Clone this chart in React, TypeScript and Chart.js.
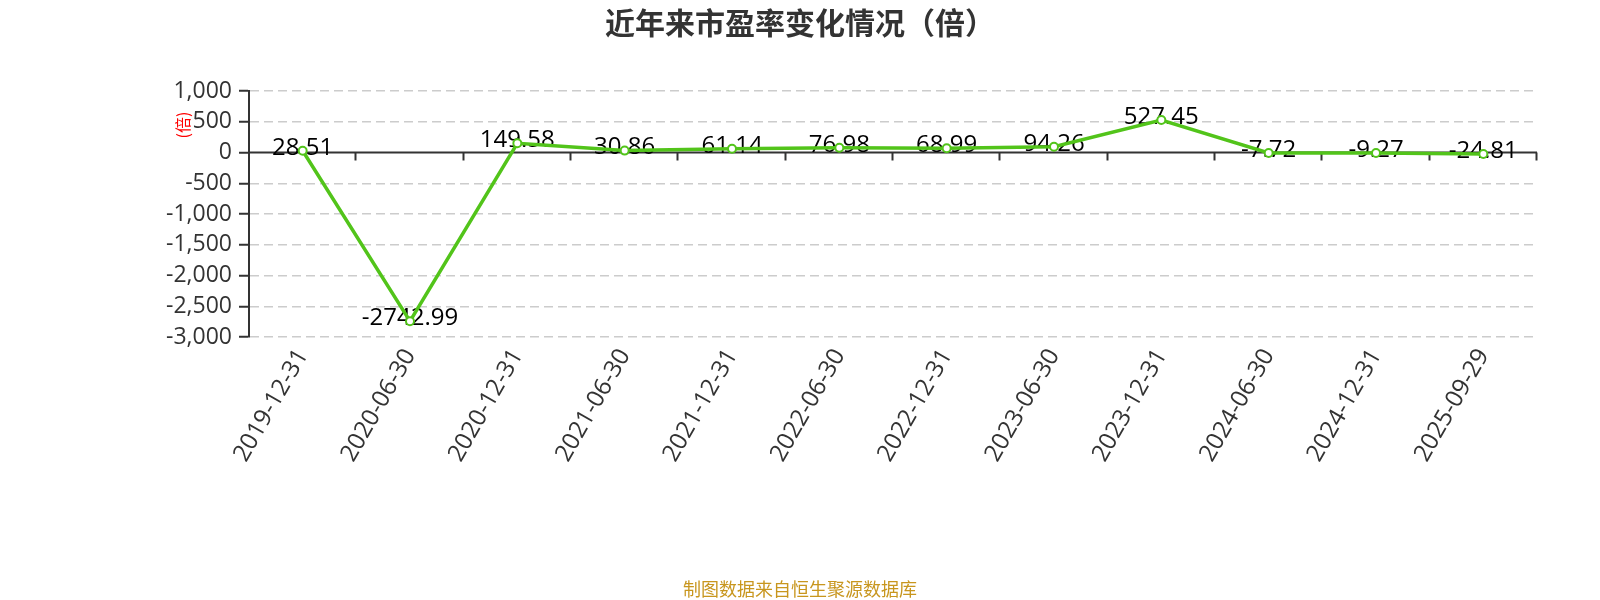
import React, { useEffect, useRef } from "react";
import { Chart, registerables } from "chart.js";

Chart.register(...registerables);

const categories = [
  "2019-12-31", "2020-06-30", "2020-12-31", "2021-06-30", "2021-12-31", "2022-06-30",
  "2022-12-31", "2023-06-30", "2023-12-31", "2024-06-30", "2024-12-31", "2025-09-29",
];
const peValues = [28.51, -2742.99, 149.58, 30.86, 61.14, 76.98, 68.99, 94.26, 527.45, -7.72, -9.27, -24.81];
const valueLabels = ["28.51", "-2742.99", "149.58", "30.86", "61.14", "76.98", "68.99", "94.26", "527.45", "-7.72", "-9.27", "-24.81"];
const yMin = -3000;
const yMax = 1000;
const yStep = 500;
const titleText = "近年来市盈率变化情况（倍）";
const axisName = "(倍)";
const footerText = "制图数据来自恒生聚源数据库";

const FONT = "'Open Sans', 'Noto Sans', 'Noto Sans CJK SC', sans-serif";
const CJK = "'Noto Sans CJK SC', 'Noto Sans', sans-serif";

const decorPlugin = {
  id: "decor",
  beforeDatasetsDraw(chart: any) {
    const { ctx, chartArea, scales } = chart;
    const y0 = scales.y.getPixelForValue(0);
    ctx.save();
    ctx.strokeStyle = "#333";
    ctx.lineWidth = 2;
    ctx.beginPath();
    ctx.moveTo(chartArea.left, y0);
    ctx.lineTo(chartArea.right, y0);
    ctx.stroke();
    const n = categories.length;
    const w = (chartArea.right - chartArea.left) / n;
    for (let k = 1; k <= n; k++) {
      const x = Math.round(chartArea.left + k * w) - 0.5;
      ctx.beginPath();
      ctx.moveTo(x, y0);
      ctx.lineTo(x, y0 + 8);
      ctx.stroke();
    }
    const meta = chart.getDatasetMeta(0);
    ctx.fillStyle = "#000";
    ctx.font = `24px ${FONT}`;
    ctx.textAlign = "center";
    ctx.textBaseline = "middle";
    meta.data.forEach((pt: any, i: number) => {
      ctx.fillText(valueLabels[i], pt.x, pt.y - 3);
    });
    ctx.restore();
  },
  afterDraw(chart: any) {
    const { ctx } = chart;
    ctx.save();
    ctx.textAlign = "center";
    ctx.textBaseline = "middle";
    ctx.fillStyle = "#333";
    ctx.font = `bold 30px ${CJK}`;
    ctx.fillText(titleText, 800, 23);
    ctx.fillStyle = "#c8961e";
    ctx.font = `18px ${CJK}`;
    ctx.fillText(footerText, 800, 589);
    ctx.translate(183, 125);
    ctx.rotate(-Math.PI / 2);
    ctx.fillStyle = "#ff0000";
    ctx.font = `16px ${CJK}`;
    ctx.fillText(axisName, 0, 0);
    ctx.restore();
  },
};

export default function App() {
  const ref = useRef<HTMLCanvasElement>(null);
  useEffect(() => {
    const canvas = ref.current!;
    const chart = new Chart(canvas, {
      type: "line",
      data: {
        labels: categories,
        datasets: [
          {
            data: peValues,
            borderColor: "#52c41a",
            borderWidth: 3.5,
            pointRadius: 4,
            pointBorderWidth: 2,
            pointBackgroundColor: "#fff",
            pointBorderColor: "#52c41a",
            tension: 0,
          },
        ],
      },
      options: {
        responsive: false,
        animation: false,
        layout: { padding: { top: 91, right: 63, left: 0, bottom: 0 } },
        plugins: { legend: { display: false }, tooltip: { enabled: false } },
        scales: {
          x: {
            type: "category",
            offset: true,
            grid: { display: false, drawTicks: false },
            border: { display: false },
            ticks: {
              minRotation: 60,
              maxRotation: 60,
              color: "#333",
              font: { size: 24, family: FONT },
              padding: 7,
              autoSkip: false,
            },
            afterFit(s: any) {
              s.height = 600 - 337;
            },
          },
          y: {
            min: yMin,
            max: yMax,
            ticks: {
              stepSize: yStep,
              color: "#333",
              font: { size: 23, family: FONT },
              padding: 7,
              callback: (v: any) => Number(v).toLocaleString("en-US"),
            },
            grid: {
              color: (c: any) => (c.tick && c.tick.value === 0 ? "rgba(0,0,0,0)" : "#ccc"),
              lineWidth: 1.5,
              tickLength: 10,
              tickColor: "#333",
              tickWidth: 2,
              tickBorderDash: [],
            },
            border: { display: true, color: "#333", width: 2, dash: [9, 5] },
            afterFit(s: any) {
              s.width = 249;
            },
          },
        },
      },
      plugins: [decorPlugin],
    });
    return () => chart.destroy();
  }, []);
  return (
    <div style={{ position: "fixed", left: 0, top: 0, width: 1600, height: 600, background: "#fff" }}>
      <canvas ref={ref} width={1600} height={600} style={{ width: 1600, height: 600, display: "block" }} />
    </div>
  );
}
